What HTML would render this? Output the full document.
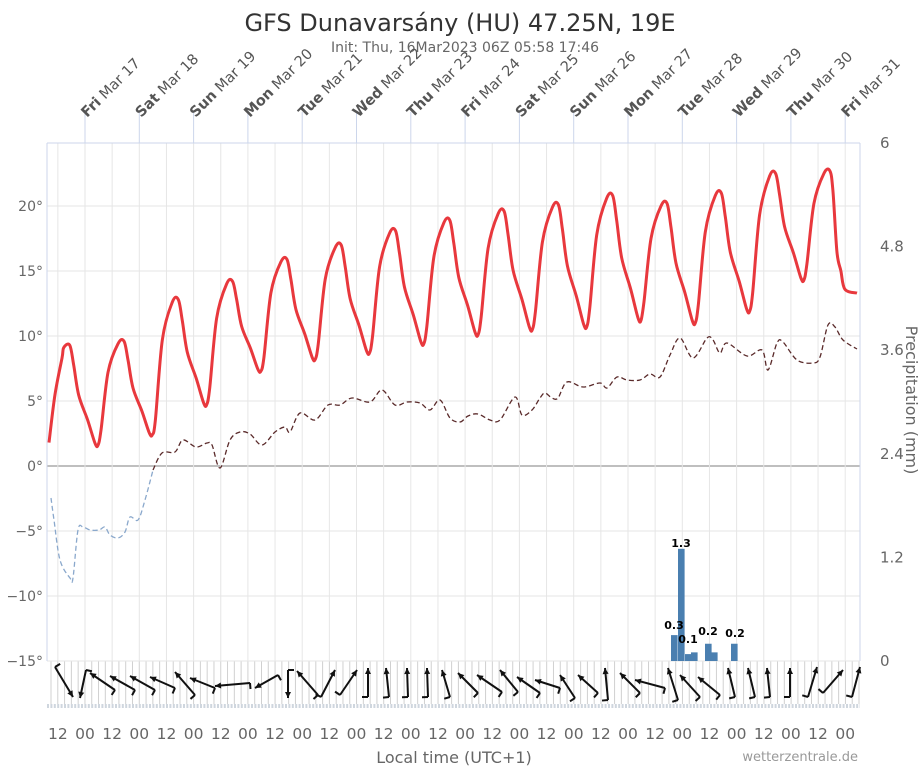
<!DOCTYPE html>
<html><head><meta charset="utf-8"><style>
body{margin:0;background:#fff;width:921px;height:768px;overflow:hidden;font-family:"Liberation Sans","DejaVu Sans",sans-serif}
</style></head><body>
<svg id="s" width="921" height="768" xmlns="http://www.w3.org/2000/svg" font-family="'DejaVu Sans','Liberation Sans',sans-serif">
<text x="460" y="31" text-anchor="middle" font-size="24" fill="#333">GFS Dunavarsány (HU) 47.25N, 19E</text>
<text x="465" y="52" text-anchor="middle" font-size="14" fill="#666">Init: Thu, 16Mar2023 06Z 05:58 17:46</text>
<text x="454" y="763" text-anchor="middle" font-size="16" fill="#666">Local time (UTC+1)</text>
<text x="858" y="761" text-anchor="end" font-size="13" fill="#999">wetterzentrale.de</text>
<text transform="translate(906,400) rotate(90)" text-anchor="middle" font-size="16" fill="#666">Precipitation (mm)</text>
<g id="g"></g>
</svg>
<script>
var NS="http://www.w3.org/2000/svg",g=document.getElementById("g");
function el(t,a,txt){var e=document.createElementNS(NS,t);for(var k in a)e.setAttribute(k,a[k]);if(txt!=null)e.textContent=txt;g.appendChild(e);return e;}
var L=47,R=860,T=143,B=661,DAY=54.3,X0=85;
function Y(t){return 466-t*13;}
for(var x=L+4;x<R;x+=6.79)el("line",{x1:x,y1:661,x2:x,y2:704,stroke:"#d0d0d0","stroke-width":1});
el("line",{x1:L,y1:706,x2:R,y2:706,stroke:"#cfd6de","stroke-width":4,"stroke-dasharray":"2 1.4"});
for(var t=-15;t<=20;t+=5){el("line",{x1:L,y1:Y(t),x2:R,y2:Y(t),stroke:t==0?"#aaa":"#e6e6e6","stroke-width":t==0?1.5:1});
 var lb=(t<0?"\u2212":"")+Math.abs(t)+"°";el("text",{x:43,y:Y(t)+5,"text-anchor":"end","font-size":14,fill:"#666"},lb);}
for(var k=-1;k<15;k++){var x0=X0+k*DAY,x12=x0-DAY/2;
 if(x12>L&&x12<R)el("line",{x1:x12,y1:T,x2:x12,y2:B,stroke:"#e6e6e6"});
 if(x0>L&&x0<R){el("line",{x1:x0,y1:T,x2:x0,y2:B,stroke:"#e6e6e6"});}
}
el("line",{x1:L,y1:T,x2:R,y2:T,stroke:"#ccd6eb"});
el("line",{x1:L,y1:T,x2:L,y2:B,stroke:"#ccd6eb"});
el("line",{x1:R,y1:T,x2:R,y2:B,stroke:"#ccd6eb"});
var days=["Fri","Sat","Sun","Mon","Tue","Wed","Thu","Fri","Sat","Sun","Mon","Tue","Wed","Thu","Fri"];
for(var k=0;k<15;k++){var x=X0+k*DAY;el("line",{x1:x,y1:112,x2:x,y2:143,stroke:"#ccd6eb"});
 var tx=el("text",{transform:"translate("+(x+2)+",118) rotate(-45)","font-size":14.5,fill:"#555"});
 var a=document.createElementNS(NS,"tspan");a.setAttribute("font-weight","bold");a.textContent=days[k];tx.appendChild(a);
 var b=document.createElementNS(NS,"tspan");b.textContent=" Mar "+(17+k);tx.appendChild(b);}
var rl=["0","1.2","2.4","3.6","4.8","6"];
for(var i=0;i<6;i++)el("text",{x:880,y:666-i*103.6,"font-size":15,fill:"#666"},rl[i]);
for(var k=0;k<15;k++){var x=X0+k*DAY;
 el("text",{x:x-DAY/2,y:739,"text-anchor":"middle","font-size":15.5,fill:"#666"},"12");
 if(x<R)el("text",{x:x,y:739,"text-anchor":"middle","font-size":15.5,fill:"#666"},"00");}
function smooth(p){var d="M"+p[0][0]+","+p[0][1];for(var i=0;i<p.length-1;i++){var p0=p[i-1]||p[i],p1=p[i],p2=p[i+1],p3=p[i+2]||p2;
 d+=" C"+(p1[0]+(p2[0]-p0[0])/6).toFixed(1)+","+(p1[1]+(p2[1]-p0[1])/6).toFixed(1)+" "+(p2[0]-(p3[0]-p1[0])/6).toFixed(1)+","+(p2[1]-(p3[1]-p1[1])/6).toFixed(1)+" "+p2[0]+","+p2[1];}return d;}
var bars=[[671,0.3],[678,1.3],[685,0.08],[691,0.1],[705,0.2],[711,0.1],[731,0.2]];
bars.forEach(function(b){var h=b[1]*86.3;el("rect",{x:b[0],y:661-h,width:6.6,height:h,fill:"#4a7fb0"});});
[[674,629,"0.3"],[681,547,"1.3"],[688,643,"0.1"],[708,635,"0.2"],[735,637,"0.2"]].forEach(function(l){el("text",{x:l[0],y:l[1],"text-anchor":"middle","font-size":11,"font-weight":"bold",fill:"#000"},l[2]);});
var dp=[[51,498],[54,520],[60,560],[70,578],[73,578],[78,530],[83,527],[90,530],[99,530],[105,527],[110,535],[118,538],[125,532],[130,517],[138,520],[145,500],[153,470],[162,453],[175,452],[183,440],[196,447],[207,443],[212,445],[220,468],[230,440],[240,432],[250,434],[262,445],[275,432],[285,427],[290,432],[300,413],[315,420],[328,405],[340,405],[352,398],[370,402],[382,390],[395,405],[407,402],[420,403],[430,410],[440,400],[450,418],[460,422],[468,416],[478,414],[490,420],[500,420],[515,397],[522,415],[532,410],[540,398],[545,393],[552,398],[558,398],[567,382],[583,387],[600,383],[607,388],[617,377],[627,380],[640,380],[650,374],[660,377],[670,355],[680,338],[693,358],[707,338],[713,340],[720,353],[727,343],[747,356],[762,350],[768,370],[777,343],[783,342],[797,360],[813,363],[820,357],[828,325],[835,327],[843,340],[857,349]];
var blue=dp.filter(function(p){return p[0]<=160});var red=dp.filter(function(p){return p[0]>=153});
el("path",{d:smooth(blue),fill:"none",stroke:"#8aa8cc","stroke-width":1.3,"stroke-dasharray":"5 3"});
el("path",{d:smooth(red),fill:"none",stroke:"#5a2a2a","stroke-width":1.3,"stroke-dasharray":"5 3"});
var mx=[9.3,9.6,12.8,14.2,15.9,17.0,18.1,18.9,19.6,20.1,20.8,20.2,21.0,22.5,22.7];
var mn=[1.6,2.4,4.7,7.3,8.2,8.7,9.4,10.1,10.5,10.7,11.2,11.0,11.9,14.3];
var pts=[[49,Y(1.8)],[55,Y(5.5)],[62,Y(8.3)]];
for(var k=0;k<15;k++){var bx=X0+(k-1)*DAY;var pk=bx+37;var M=mx[k];
 pts.push([pk-4,Y(M-0.2)],[pk+2,Y(M)]);
 if(k==14){pts.push([pk+5,Y(M-1.5)],[pk+9,Y(16.5)],[pk+13,Y(15)],[pk+17,Y(13.6)],[857,Y(13.3)]);break;}
 var m=mn[k],A=M-m,tx=bx+DAY+13;
 pts.push([pk+6,Y(M-0.2*A)],[pk+11,Y(m+0.5*A)],[pk+20,Y(m+0.25*A)],[tx-3,Y(m+0.02*A)],[tx,Y(m)],[tx+3,Y(m+0.15*A)],[tx+10,Y(m+0.7*(mx[k+1]-m))]);}
el("path",{d:smooth(pts),fill:"none",stroke:"#e8383d","stroke-width":3,"stroke-linejoin":"round"});
var w=[[55,667,73,697],[86,670,80,698],[115,690,90,673],[135,690,110,676],[155,690,130,676],[175,688,150,677],[195,695,175,672],[215,688,190,678],[250,683,215,686],[278,675,255,688],[288,670,288,698],[318,695,297,671],[321,697,335,670],[340,695,357,670],[368,697,368,668],[389,697,386,668],[408,697,407,668],[428,697,427,668],[450,697,442,670],[478,693,458,673],[502,692,477,675],[518,692,500,670],[540,693,517,677],[560,688,535,680],[575,698,560,675],[598,693,578,675],[608,700,605,668],[640,693,620,673],[665,688,635,680],[678,700,668,668],[700,697,680,675],[720,695,698,677],[735,697,728,668],[755,697,748,668],[770,697,767,668],[790,697,790,668],[808,697,817,667],[823,693,843,670],[852,697,860,667]];
w.forEach(function(a){var dx=a[2]-a[0],dy=a[3]-a[1],l=Math.hypot(dx,dy),ux=dx/l,uy=dy/l;
 el("line",{x1:a[0],y1:a[1],x2:a[2],y2:a[3],stroke:"#111","stroke-width":2});
 var hx=a[2],hy=a[3],px=-uy,py=ux;
 el("polygon",{points:hx+","+hy+" "+(hx-6*ux+3*px)+","+(hy-6*uy+3*py)+" "+(hx-6*ux-3*px)+","+(hy-6*uy-3*py),fill:"#111"});
 el("line",{x1:a[0],y1:a[1],x2:a[0]-6*px,y2:a[1]-6*py,stroke:"#111","stroke-width":2});});
</script>
</body></html>
